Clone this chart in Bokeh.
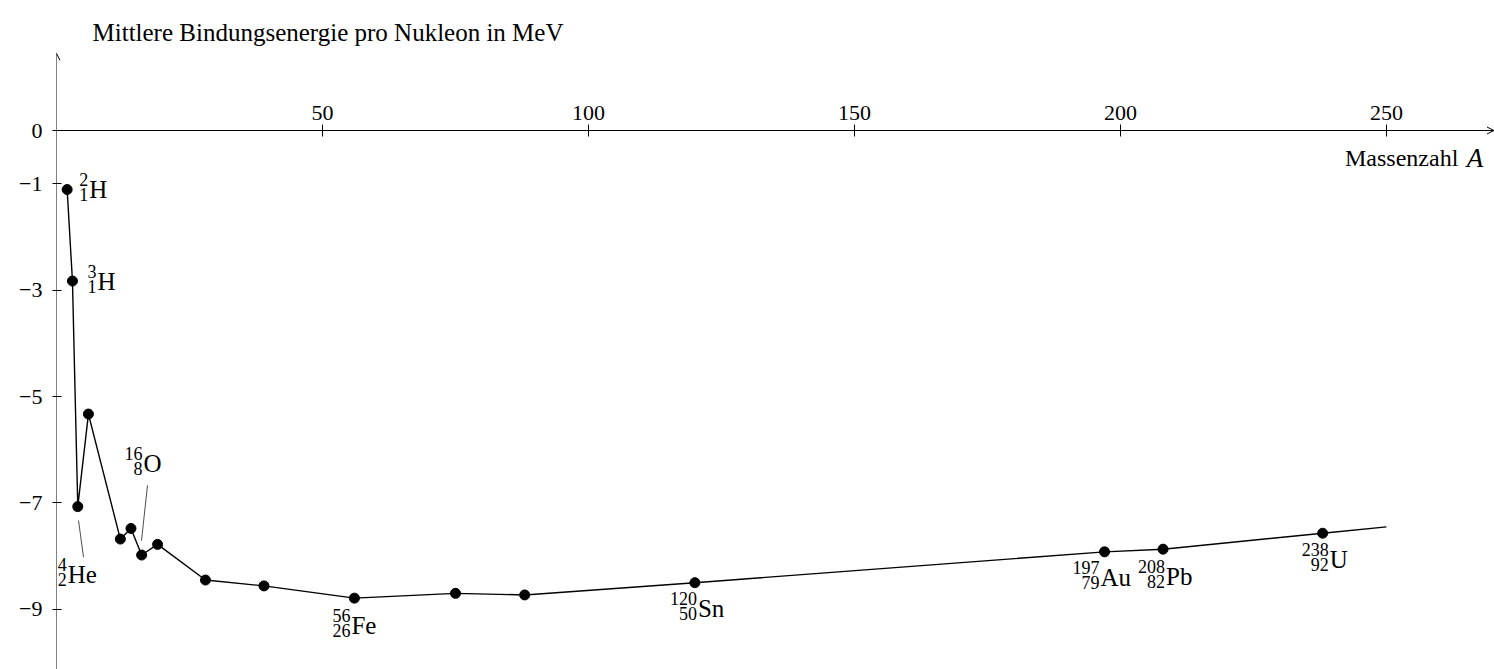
from bokeh.plotting import figure
from bokeh.models import FixedTicker, Range1d, Arrow, OpenHead, ColumnDataSource
from bokeh.core.properties import value
from bokeh.embed import file_html
from bokeh.resources import INLINE

# ---- data ----
mass_number = [2, 3, 4, 6, 12, 14, 16, 19, 28, 39, 56, 75, 88, 120, 197, 208, 238, 250]
binding_energy = [-1.11, -2.83, -7.07, -5.33, -7.68, -7.48, -7.98, -7.78, -8.45, -8.56,
                  -8.79, -8.70, -8.73, -8.50, -7.92, -7.87, -7.57, -7.45]

iso_symbol = ["H", "H", "He", "O", "Fe", "Sn", "Au", "Pb", "U"]
iso_mass = [2, 3, 4, 16, 56, 120, 197, 208, 238]
iso_charge = [1, 1, 2, 8, 26, 50, 79, 82, 92]
iso_energy = [-1.11, -2.83, -7.07, -7.98, -8.79, -8.50, -7.92, -7.87, -7.57]

x_ticks = [50, 100, 150, 200, 250]
y_ticks = [0, -1, -3, -5, -7, -9]
y_tick_labels = ["0", "−1", "−3", "−5", "−7", "−9"]

title_text = "Mittlere Bindungsenergie pro Nukleon in MeV"
xlabel_text = "Massenzahl"
xlabel_var = "A"

FONT = "Liberation Serif"

# label offsets in screen px (element left edge, baseline) relative to the point
lab_dx = [22, 25, -10, 2, -3, 3, -4, 3, 7]
lab_dy = [0, 0, 68, -92, 27, 26, 26, 27, 26]

W, H = 1494, 669
X0_PX, Y0_PX = 56, 130          # page position of the origin
SX, SY = 5.32, 53.2             # px per unit

p = figure(width=W, height=H,
           x_range=Range1d(0, (W - X0_PX) / SX),
           y_range=Range1d(-(H - Y0_PX) / SY, Y0_PX / SY),
           x_axis_location="below", y_axis_location="left",
           toolbar_location=None, output_backend="svg",
           min_border_left=X0_PX, min_border_right=0, min_border_top=0, min_border_bottom=0)
p.grid.visible = False
p.outline_line_color = None
p.background_fill_color = "white"

xa = p.xaxis[0]
xa.fixed_location = 0
xa.ticker = FixedTicker(ticks=x_ticks)
xa.major_tick_in = 6
xa.major_tick_out = 6
xa.minor_tick_line_color = None
xa.axis_line_color = None
xa.major_tick_line_color = "black"
xa.major_label_text_font = FONT
xa.major_label_text_font_size = "22px"
xa.major_label_text_color = "black"
xa.major_label_standoff = -31

ya = p.yaxis[0]
ya.ticker = FixedTicker(ticks=y_ticks)
ya.major_label_overrides = {t: s for t, s in zip(y_ticks, y_tick_labels)}
ya.major_tick_in = 5
ya.major_tick_out = 4
ya.minor_tick_line_color = None
ya.axis_line_color = None
ya.major_tick_line_color = "black"
ya.major_label_text_font = FONT
ya.major_label_text_font_size = "22px"
ya.major_label_text_color = "black"
ya.major_label_standoff = 10

# axis lines with arrow heads
p.add_layout(Arrow(end=OpenHead(size=7, line_width=1, line_color="black"),
                   x_start=0, y_start=-(H - Y0_PX) / SY, x_end=0, y_end=1.45,
                   line_color="black", line_width=1))
p.add_layout(Arrow(end=OpenHead(size=7, line_width=1, line_color="black"),
                   x_start=0, y_start=0, x_end=270.2, y_end=0,
                   line_color="black", line_width=1))

# curve and markers
p.line(mass_number, binding_energy, line_color="black", line_width=1.4)
p.scatter(mass_number[:-1], binding_energy[:-1], size=10, color="black")

# leader lines for He and O
p.segment(x0=[iso_mass[2] + 0.14, iso_mass[3] + 1.1],
          y0=[iso_energy[2] - 0.26, iso_energy[3] + 1.31],
          x1=[iso_mass[2] + 1.08, iso_mass[3] - 0.02],
          y1=[iso_energy[2] - 0.95, iso_energy[3] + 0.27],
          line_color="black", line_width=0.7)

src = ColumnDataSource(dict(
    x=iso_mass, y=iso_energy, sym=iso_symbol,
    sup=[str(a) for a in iso_mass], sub=[str(z) for z in iso_charge],
    dx=lab_dx, dy=lab_dy,
    ndx=[d - 1 for d in lab_dx],
    sup_dy=[d - 10 for d in lab_dy],
    sub_dy=[d + 5 for d in lab_dy],
))
p.text(x="x", y="y", text="sym", x_offset="dx", y_offset="dy", source=src,
       text_font=value(FONT), text_font_size="25px", text_align="left",
       text_baseline="alphabetic", text_color="black")
p.text(x="x", y="y", text="sup", x_offset="ndx", y_offset="sup_dy", source=src,
       text_font=value(FONT), text_font_size="18px", text_align="right",
       text_baseline="alphabetic", text_color="black")
p.text(x="x", y="y", text="sub", x_offset="ndx", y_offset="sub_dy", source=src,
       text_font=value(FONT), text_font_size="18px", text_align="right",
       text_baseline="alphabetic", text_color="black")

# title and axis label (text glyphs inside the frame)
p.text(x=[6.77], y=[1.84], text=[title_text], text_font=value(FONT),
       text_font_size="25px", text_baseline="alphabetic", text_color="black")
p.text(x=[268.2], y=[-0.51], text=[xlabel_var], text_font=value(FONT),
       text_font_style="italic", text_font_size="27px",
       text_align="right", text_baseline="alphabetic", text_color="black")
p.text(x=[268.2], y=[-0.51], x_offset=-25, text=[xlabel_text], text_font=value(FONT),
       text_font_size="24px", text_align="right",
       text_baseline="alphabetic", text_color="black")

open("out.html", "w").write(file_html(p, INLINE))
